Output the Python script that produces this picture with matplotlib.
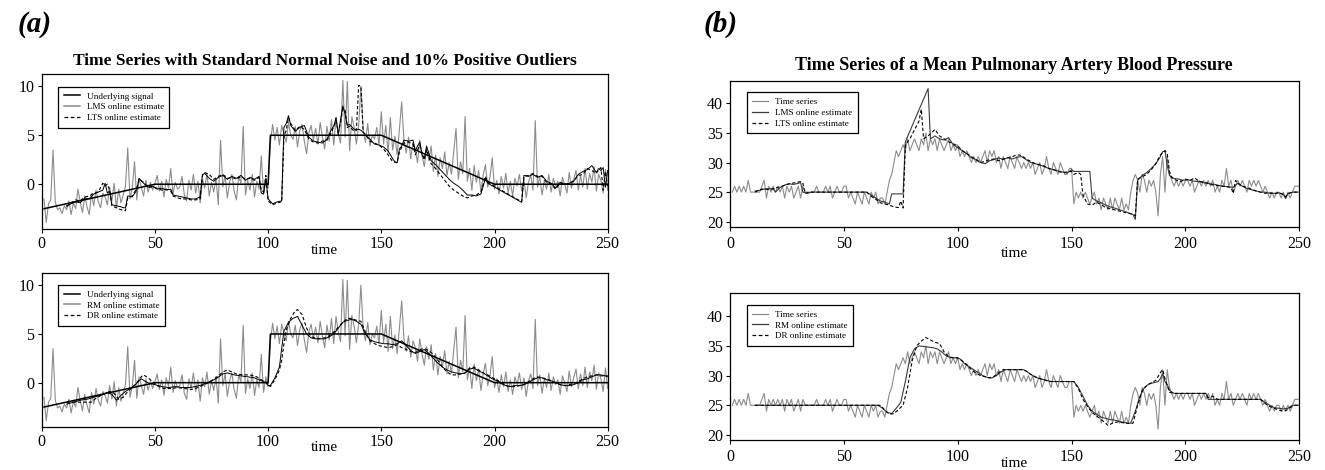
import matplotlib
matplotlib.use("Agg")
import matplotlib.pyplot as plt
from matplotlib.lines import Line2D

# ---------------- data: panel (a) ----------------
a_series = [
    -1.5, -3.9, -2.0, -1.6, 3.5, -1.8, -2.6, -2.4, -3.0, -2.2,
    -2.6, -1.7, -3.1, -1.9, -2.5, -0.5, -1.8, -2.9, -1.2, -2.3,
    -3.1, -1.0, -2.2, -0.6, -1.8, -2.4, -0.9, -1.3, -2.1, -0.3,
    -1.7, 0.1, -2.4, -0.5, -1.9, -1.1, -0.2, 3.7, -1.5, -0.4,
    2.3, -1.6, 0.6, -0.3, -1.2, 0.4, -0.8, 0.2, -0.6, 0.1,
    0.9, -0.7, 0.3, -1.3, 0.5, -0.4, 1.6, -1.0, 0.2, -0.5,
    -0.3, 0.8, -1.1, -1.7, 0.4, -0.6, 1.0, -0.9, 0.3, -1.9,
    0.5, -0.4, 1.1, -1.2, 0.2, -0.8, 0.6, -2.1, 4.5, -0.3,
    0.9, -1.4, 0.2, 1.0, -0.7, -1.6, 0.8, 0.1, 5.9, -1.1,
    0.4, -0.6, 1.0, -1.3, 0.3, -0.5, 2.9, -1.0, 0.6, -0.4,
    4.2, 6.1, 4.5, 5.8, 4.0, 6.0, 5.1, 4.3, 6.3, 5.0,
    4.6, 5.9, 3.8, 5.5, 6.1, 4.4, 3.1, 5.2, 6.0, 4.5,
    5.7, 4.1, 6.3, 4.8, 3.6, 5.9, 4.4, 6.6, 4.0, 6.8,
    5.2, 4.2, 10.6, 4.8, 10.5, 3.4, 6.9, 5.8, 4.1, 6.0,
    10.0, 5.5, 4.3, 6.2, 3.9, 5.0, 4.6, 5.8, 4.0, 7.4,
    4.1, 6.0, 3.2, 6.8, 3.5, 4.9, 3.0, 5.6, 8.4, 4.5,
    3.2, 4.8, 2.6, 4.3, 3.6, 2.2, 4.5, 2.9, 1.8, 3.7,
    2.4, 3.9, 1.3, 3.0, 0.8, 2.7, 1.6, 3.3, 0.9, 2.2,
    1.0, 3.4, 5.7, 0.5, 2.3, 1.1, 6.9, 0.3, 1.6, -0.6,
    1.9, 0.2, 1.4, -0.8, 0.9, 2.0, -0.3, 0.7, 2.7, -0.5,
    0.4, -1.0, 0.8, -0.4, 1.1, -0.9, 0.3, -1.2, 0.6, -0.2,
    1.0, -0.7, 0.5, -1.4, 0.2, 0.9, -0.6, 6.5, -0.3, 0.8,
    -1.1, 0.4, -0.5, 1.0, -0.8, 0.6, -0.2, 0.3, -1.2, 0.7,
    0.0, -0.9, 1.2, -0.4, 0.5, 1.4, -0.6, 0.9, -0.3, 1.6,
    -0.5, 1.1, 0.2, 1.8, -0.7, 1.0, 0.4, -0.9, 1.5, -0.6,
]
a_signal_t = [1, 50, 100, 101, 150, 200, 250]
a_signal_v = [-2.5, 0, 0, 5, 5, 0, 0]

a_lms_t = [11, 13, 15, 17, 19, 21, 23, 25, 27, 28, 29, 30, 31, 33, 35, 36, 37, 38, 40, 42,
           43, 45, 47, 49, 51, 53, 55, 57, 58, 60, 62, 64, 66, 68, 70, 71, 72, 74, 76, 78,
           80, 82, 84, 86, 88, 90, 92, 94, 96, 97, 98, 99, 100, 102, 104, 106, 107, 108, 109, 110,
           112, 114, 116, 118, 120, 122, 124, 126, 128, 129, 130, 131, 132, 133, 134, 135, 136, 138, 140, 141,
           142, 143, 145, 147, 149, 151, 153, 155, 156, 157, 158, 159, 160, 162, 164, 165, 166, 167, 168, 169,
           170, 172, 174, 176, 178, 180, 182, 184, 186, 188, 190, 192, 194, 196, 197, 212, 213, 215, 217, 219,
           221, 223, 225, 227, 229, 231, 233, 235, 237, 239, 241, 243, 245, 246, 247, 248, 249, 250]
a_lms_v = [-2.2, -2.0, -1.8, -1.9, -1.4, -1.5, -1.0, -0.8, -0.6, 0.1, -0.9, -0.7, -2.1, -2.2, -2.3, -2.4, -2.4, -1.2, -1.3, -0.6,
           0.6, 0.1, -0.3, -0.2, -0.5, -0.4, -0.6, -0.5, -1.1, -1.2, -1.3, -1.4, -1.5, -1.5, -1.3, 1.0, 1.1, 0.6, 0.3, 0.7,
           0.9, 0.5, 0.8, 0.6, 0.9, 0.4, 0.7, 0.5, 0.8, -0.9, -1.0, 0.6, -1.5, -2.0, -1.8, -1.7, 5.8, 6.2, 7.0, 6.0,
           5.4, 5.8, 6.0, 4.8, 4.4, 4.3, 4.2, 4.6, 5.6, 5.9, 6.8, 5.0, 6.6, 8.0, 7.2, 6.0, 6.1, 5.6, 5.6, 5.5,
           5.3, 5.0, 4.6, 4.1, 4.0, 3.8, 3.4, 2.6, 2.3, 2.2, 3.6, 3.9, 4.5, 4.4, 4.5, 3.4, 3.9, 4.3, 3.0, 2.6,
           3.9, 2.4, 2.0, 1.5, 1.0, 0.5, 0.1, -0.2, -0.6, -1.1, -1.1, -1.2, -1.0, 0.6, 0.1, -1.85, 0.9, 0.8, 1.0, 0.7,
           0.9, 0.3, 0.1, -0.4, 0.2, 0.0, 0.1, 0.3, 1.0, 1.3, 1.5, 1.9, 1.2, 1.6, 1.4, 1.7, -0.3, 1.4]

a_lts_t = [11, 13, 15, 17, 19, 21, 23, 25, 27, 28, 29, 30, 31, 33, 35, 37, 38, 40, 42, 43,
           45, 47, 49, 51, 53, 55, 57, 58, 60, 62, 64, 66, 68, 70, 71, 72, 74, 76, 78, 80,
           82, 84, 86, 88, 90, 92, 94, 96, 97, 98, 99, 100, 102, 104, 106, 107, 108, 109, 110, 112,
           114, 116, 118, 120, 122, 124, 126, 128, 130, 131, 132, 133, 134, 135, 136, 138, 139, 140, 141, 142,
           143, 145, 147, 149, 151, 153, 155, 157, 158, 160, 162, 164, 165, 167, 168, 169, 170, 172, 174, 176,
           178, 180, 182, 184, 186, 188, 190, 192, 194, 196, 197, 212, 213, 215, 217, 219, 221, 223, 225, 227,
           229, 231, 233, 235, 237, 239, 241, 243, 245, 246, 247, 248, 249, 250]
a_lts_v = [-2.3, -1.9, -1.6, -1.7, -1.3, -1.2, -0.9, -0.8, 0.1, -0.2, 0.0, -0.6, -2.2, -2.4, -2.6, -2.7, -1.4, -1.2, -0.4, 0.5,
           0.2, -0.3, -0.3, -0.4, -0.6, -0.5, -0.7, -1.2, -1.4, -1.5, -1.5, -1.6, -1.6, -1.5, 0.9, 1.2, 1.0, 0.5, 0.8, 1.0,
           0.6, 0.7, 0.5, 0.8, 0.5, 0.6, 0.4, 0.7, -0.6, -0.8, 0.9, -1.7, -2.1, -1.9, -1.8, 4.9, 5.5, 6.8, 6.2, 5.5,
           5.9, 5.6, 4.6, 4.3, 4.2, 4.4, 4.5, 5.3, 6.5, 5.3, 6.3, 7.7, 7.6, 5.8, 5.9, 5.4, 5.5, 10.1, 10.0, 5.3,
           5.1, 4.4, 4.2, 4.0, 3.6, 3.0, 2.3, 2.2, 3.3, 4.2, 4.3, 4.1, 3.0, 4.0, 3.2, 2.5, 3.5, 2.1, 1.6, 1.0,
           0.4, -0.2, -0.6, -0.9, -1.2, -1.4, -1.2, -1.1, -0.8, 0.8, 0.2, -1.8, 0.8, 0.9, 1.1, 0.8, 0.8, 0.2, 0.0, -0.5,
           0.1, 0.1, 0.0, 0.4, 0.9, 1.0, 1.6, 1.4, 1.1, 1.5, 1.7, -0.6, 1.3, -0.2]

a_rm_t = [11, 14, 17, 20, 23, 26, 29, 31, 33, 35, 37, 39, 41, 43, 44, 46, 48, 50, 53, 56,
          59, 62, 65, 68, 71, 74, 77, 80, 82, 85, 88, 91, 94, 97, 99, 100, 101, 103, 105, 106,
          107, 109, 111, 113, 115, 117, 119, 121, 123, 125, 127, 129, 131, 133, 135, 137, 139, 141, 143, 145,
          147, 149, 151, 153, 155, 157, 159, 161, 163, 165, 167, 169, 171, 173, 175, 177, 179, 181, 183, 185,
          187, 189, 191, 193, 195, 197, 199, 201, 203, 205, 207, 209, 211, 213, 215, 217, 219, 221, 223, 225,
          227, 229, 231, 233, 235, 237, 239, 241, 243, 245, 247, 249, 250]
a_rm_v = [-2.2, -2.0, -1.8, -1.7, -1.5, -1.3, -1.0, -1.2, -1.8, -1.3, -0.9, -0.6, -0.3, 0.2, 0.4, 0.1, -0.1, -0.2, -0.4, -0.5,
          -0.4, -0.5, -0.5, -0.4, -0.2, 0.1, 0.4, 0.9, 1.0, 0.8, 0.7, 0.6, 0.5, 0.2, 0.0, -0.3, -0.3, 0.5, 1.6, 3.5,
          5.3, 6.2, 6.6, 6.8, 5.9, 5.0, 4.6, 4.5, 4.5, 4.5, 4.7, 5.0, 5.6, 6.2, 6.4, 6.5, 6.3, 6.0, 5.0, 4.4,
          4.2, 4.1, 4.0, 4.0, 3.9, 4.0, 4.3, 3.8, 3.3, 3.0, 3.2, 3.4, 3.0, 2.5, 2.0, 1.6, 1.3, 1.1, 1.0, 0.9,
          1.0, 1.4, 1.5, 1.2, 1.0, 0.7, 0.4, 0.2, -0.1, -0.3, -0.4, -0.3, -0.3, -0.2, 0.0, 0.3, 0.5, 0.5, 0.3, 0.2,
          0.0, -0.2, -0.3, -0.3, -0.2, 0.0, 0.3, 0.4, 0.6, 0.8, 0.8, 0.7, 0.7]

a_dr_t = [11, 14, 17, 20, 22, 24, 27, 30, 32, 34, 36, 38, 40, 42, 44, 45, 47, 49, 51, 54,
          57, 60, 63, 66, 69, 72, 75, 78, 80, 82, 84, 86, 89, 92, 95, 97, 99, 100, 101, 103,
          105, 106, 107, 108, 110, 112, 113, 115, 117, 119, 121, 123, 125, 127, 129, 131, 133, 135, 137, 139,
          141, 143, 145, 147, 149, 151, 153, 155, 157, 159, 161, 163, 165, 167, 169, 171, 173, 175, 177, 179,
          181, 183, 185, 187, 189, 191, 193, 195, 197, 199, 201, 203, 205, 207, 209, 211, 213, 215, 217, 219,
          221, 223, 225, 227, 229, 231, 233, 235, 237, 239, 241, 243, 245, 247, 249, 250]
a_dr_v = [-2.0, -2.0, -2.0, -2.0, -2.0, -1.6, -1.2, -0.9, -1.1, -1.7, -1.5, -0.9, -0.5, 0.0, 0.6, 0.8, 0.5, 0.1, -0.3, -0.6,
          -0.6, -0.5, -0.6, -0.7, -0.5, -0.2, 0.2, 0.7, 1.1, 1.3, 1.1, 0.9, 0.8, 0.8, 0.6, 0.3, 0.1, -0.2, -0.4, 0.3,
          1.3, 2.3, 4.0, 5.4, 6.6, 7.4, 7.5, 7.0, 5.6, 4.7, 4.6, 4.5, 4.6, 4.8, 5.2, 5.7, 6.2, 6.6, 6.6, 6.4,
          6.3, 5.2, 4.3, 4.0, 3.8, 3.7, 3.6, 3.7, 3.9, 3.6, 3.4, 3.2, 3.1, 3.4, 3.5, 3.3, 2.9, 2.3, 1.6, 1.1,
          0.8, 0.8, 0.9, 1.0, 1.5, 1.6, 1.3, 1.0, 0.8, 0.5, 0.3, 0.0, -0.3, -0.4, -0.4, -0.3, -0.2, 0.1, 0.4, 0.6,
          0.5, 0.4, 0.2, 0.0, -0.2, -0.3, -0.2, -0.1, 0.1, 0.4, 0.6, 0.7, 0.8, 0.7, 0.7, 0.6]

# ---------------- data: panel (b) ----------------
b_series = [
    25, 26, 25, 26, 25, 26, 25, 27, 25, 25,
    25, 25, 25, 26, 27, 24, 26, 25, 26, 25,
    26, 25, 26, 24, 26, 25, 26, 24, 25, 26,
    24, 26, 25, 25, 25, 25, 25, 26, 25, 25,
    25, 26, 25, 26, 24, 25, 26, 25, 25, 26,
    26, 24, 25, 24, 23, 25, 24, 23, 25, 24,
    23, 25, 24, 25, 23, 24, 24, 23, 25, 27,
    28, 30, 32, 31, 32, 33, 32, 34, 32, 33,
    34, 33, 32, 34, 33, 35, 32, 34, 33, 34,
    32, 34, 33, 32, 33, 34, 32, 33, 32, 33,
    31, 32, 31, 32, 31, 30, 31, 30, 31, 30,
    31, 32, 30, 32, 31, 32, 30, 31, 29, 31,
    30, 29, 31, 30, 29, 31, 30, 29, 30, 29,
    30, 29, 30, 28, 29, 30, 28, 29, 31, 29,
    28, 30, 29, 28, 30, 29, 28, 28, 29, 29,
    23, 25, 24, 25, 24, 25, 24, 23, 24, 25,
    23, 24, 22, 24, 23, 22, 24, 22, 24, 23,
    22, 24, 22, 23, 22, 25, 27, 28, 27, 25,
    28, 27, 25, 27, 26, 27, 25, 21, 28, 31,
    25, 31, 28, 27, 26, 27, 26, 27, 26, 27,
    27, 26, 27, 25, 26, 27, 26, 27, 26, 27,
    26, 27, 25, 26, 25, 27, 26, 29, 26, 27,
    25, 26, 27, 26, 27, 26, 25, 27, 26, 27,
    26, 27, 26, 25, 26, 25, 24, 25, 24, 25,
    25, 24, 25, 24, 25, 24, 25, 26, 26, 26,
]

b_lms_t = [11, 13, 15, 17, 19, 20, 22, 24, 26, 28, 30, 31, 32, 34, 36, 40, 50, 60, 62, 64,
           66, 68, 70, 71, 76, 77, 87, 88, 90, 92, 94, 96, 98, 100, 102, 104, 106, 108, 110, 112,
           114, 116, 118, 120, 122, 124, 126, 128, 130, 132, 134, 136, 138, 140, 142, 144, 146, 148, 150, 151,
           158, 159, 161, 163, 165, 167, 169, 171, 173, 175, 177, 178, 179, 181, 183, 185, 187, 189, 190, 191,
           192, 193, 195, 197, 199, 201, 203, 205, 207, 209, 211, 213, 215, 217, 219, 221, 223, 225, 227, 229,
           231, 233, 235, 237, 239, 241, 243, 244, 245, 247, 250]
b_lms_v = [25.2, 25.3, 25.5, 25.6, 25.5, 25.0, 25.8, 26.2, 26.4, 26.3, 26.5, 26.6, 25.0, 24.8, 25.0, 25.0, 25.0, 25.0, 24.5, 24.0,
           23.5, 23.3, 23.0, 24.7, 24.7, 33.5, 42.5, 34.0, 34.5, 34.0, 33.8, 34.2, 33.0, 32.5, 32.0, 31.5, 30.8, 30.5, 30.0, 29.8,
           30.3, 30.5, 30.8, 30.5, 30.8, 30.6, 30.9, 31.0, 30.5, 30.0, 29.8, 29.6, 29.3, 29.0, 28.8, 28.6, 28.4, 28.2, 28.8, 28.5,
           28.5, 24.0, 23.5, 23.2, 22.8, 22.5, 22.3, 22.0, 21.8, 21.5, 21.2, 20.4, 27.0, 27.8, 28.3, 29.0, 29.8, 31.0, 31.8, 32.0,
           29.5, 27.8, 27.3, 27.2, 27.0, 27.1, 26.9, 26.8, 26.7, 26.5, 26.4, 26.3, 26.1, 26.0, 25.9, 25.8, 26.5, 26.0, 25.6, 25.4,
           25.2, 25.0, 25.0, 24.8, 24.8, 24.9, 24.6, 23.9, 24.8, 25.0, 25.0]

b_lts_t = [11, 13, 15, 17, 19, 21, 23, 25, 27, 29, 31, 32, 33, 35, 40, 50, 60, 62, 64, 66,
           68, 70, 72, 74, 75, 76, 77, 79, 81, 83, 84, 85, 87, 89, 90, 92, 94, 96, 98, 100,
           102, 104, 106, 108, 110, 112, 114, 116, 118, 120, 122, 124, 126, 128, 130, 132, 134, 136, 138, 140,
           142, 144, 146, 148, 150, 151, 153, 154, 155, 157, 159, 161, 163, 165, 167, 169, 171, 173, 175, 177,
           178, 179, 181, 183, 185, 187, 189, 191, 192, 193, 194, 196, 198, 200, 202, 204, 206, 208, 210, 212,
           214, 216, 218, 220, 221, 222, 223, 225, 227, 229, 231, 233, 235, 237, 239, 241, 243, 244, 245, 247,
           250]
b_lts_v = [25.0, 25.4, 25.6, 25.4, 25.6, 25.8, 26.0, 26.3, 26.5, 26.6, 26.8, 26.5, 24.8, 25.0, 25.0, 25.0, 25.0, 24.3, 23.8, 23.2,
           23.0, 22.8, 22.5, 22.4, 23.5, 22.3, 33.0, 34.0, 35.5, 37.0, 39.0, 34.0, 34.5, 35.2, 35.6, 34.5, 34.0, 33.5, 33.2, 32.8,
           32.0, 31.5, 31.0, 30.5, 30.0, 30.2, 30.5, 30.6, 30.3, 30.6, 30.8, 31.0, 31.3, 31.2, 30.6, 30.2, 29.8, 29.6, 29.4, 29.0,
           28.8, 28.5, 28.3, 28.4, 28.5, 28.0, 28.3, 28.0, 24.5, 23.0, 22.8, 23.3, 22.9, 22.4, 22.2, 22.0, 21.8, 21.6, 21.4, 21.3,
           21.0, 27.2, 27.6, 28.0, 28.8, 29.8, 31.3, 32.0, 31.5, 28.5, 27.4, 27.0, 26.8, 27.2, 27.0, 27.4, 26.8, 26.7, 26.5, 26.2,
           26.1, 26.0, 25.9, 25.8, 24.8, 27.0, 26.5, 26.0, 25.8, 25.5, 25.2, 25.0, 24.8, 24.9, 24.7, 24.9, 24.6, 24.2, 24.7, 25.0,
           25.0]

b_rm_t = [11, 20, 30, 40, 50, 60, 65, 67, 69, 71, 73, 75, 77, 79, 81, 83, 85, 87, 89, 91,
          93, 95, 97, 99, 101, 103, 105, 107, 109, 111, 113, 115, 117, 119, 121, 123, 125, 127, 129, 131,
          133, 135, 137, 139, 141, 143, 145, 147, 149, 151, 153, 155, 157, 159, 161, 163, 165, 167, 169, 171,
          173, 175, 176, 178, 180, 182, 184, 186, 188, 189, 190, 191, 192, 193, 195, 200, 205, 209, 210, 215,
          220, 225, 230, 233, 235, 237, 239, 241, 243, 245, 247, 250]
b_rm_v = [25.0, 25.0, 25.0, 25.0, 25.0, 25.0, 25.0, 24.5, 23.8, 23.6, 24.5, 25.5, 29.0, 33.0, 34.5, 35.0, 34.9, 34.8, 34.7, 34.5,
          34.0, 33.3, 33.0, 33.0, 32.8, 32.0, 31.5, 31.0, 30.5, 30.0, 29.7, 29.6, 30.0, 30.6, 31.0, 31.0, 31.0, 31.0, 31.0, 30.5,
          30.0, 29.6, 29.4, 29.2, 29.0, 29.0, 29.0, 29.0, 29.0, 29.0, 28.0, 26.5, 25.0, 24.0, 23.5, 23.0, 22.8, 22.6, 22.5, 22.3,
          22.1, 22.0, 22.0, 24.0, 26.5, 28.0, 28.6, 28.8, 29.0, 29.5, 30.3, 29.0, 28.5, 27.5, 27.0, 27.0, 27.0, 27.0, 26.0, 26.0,
          26.0, 26.0, 26.0, 26.0, 25.5, 25.0, 24.6, 24.5, 24.4, 24.5, 25.0, 25.0]

b_dr_t = [11, 20, 30, 40, 50, 60, 66, 68, 70, 72, 74, 76, 78, 80, 82, 84, 86, 88, 90, 92,
          94, 96, 98, 100, 102, 104, 106, 108, 110, 112, 114, 116, 118, 120, 124, 128, 130, 132, 134, 136,
          138, 140, 144, 148, 151, 153, 155, 157, 159, 161, 163, 165, 166, 168, 170, 172, 174, 176, 177, 179,
          181, 183, 185, 187, 189, 190, 191, 193, 195, 200, 205, 209, 210, 212, 214, 220, 225, 230, 233, 235,
          237, 239, 241, 243, 244, 246, 248, 250]
b_dr_v = [25.0, 25.0, 25.0, 25.0, 25.0, 25.0, 25.0, 24.2, 23.5, 23.6, 24.3, 25.0, 28.0, 32.5, 35.0, 35.8, 36.4, 36.0, 35.6, 35.4,
          34.0, 33.2, 33.0, 33.0, 32.5, 31.8, 31.0, 30.4, 30.0, 29.8, 29.6, 29.9, 30.5, 31.0, 31.0, 31.0, 30.8, 30.2, 29.8, 29.5,
          29.3, 29.0, 29.0, 29.0, 29.0, 27.8, 26.0, 24.8, 23.8, 23.2, 22.6, 22.0, 21.6, 22.0, 22.2, 22.1, 22.0, 21.9, 22.0, 25.0,
          27.5, 28.3, 28.8, 29.2, 30.5, 31.0, 29.5, 27.2, 27.0, 27.0, 27.0, 27.0, 26.3, 26.5, 26.0, 26.0, 26.0, 26.0, 26.0, 25.3,
          24.8, 24.5, 24.2, 24.0, 24.1, 24.6, 25.0, 25.0]

titles = ["Time Series with Standard Normal Noise and 10% Positive Outliers",
          "Time Series of a Mean Pulmonary Artery Blood Pressure"]
a_top_labels = ["Underlying signal", "LMS online estimate", "LTS online estimate"]
a_bot_labels = ["Underlying signal", "RM online estimate", "DR online estimate"]
b_top_labels = ["Time series", "LMS online estimate", "LTS online estimate"]
b_bot_labels = ["Time series", "RM online estimate", "DR online estimate"]
x_ticks = [0, 50, 100, 150, 200, 250]
a_yticks = [0, 5, 10]
b_yticks = [20, 25, 30, 35, 40]

# ---------------- drawing ----------------
plt.rcParams["font.family"] = ["Liberation Serif", "DejaVu Serif"]
W, H = 1325, 470
fig = plt.figure(figsize=(W / 100, H / 100), dpi=100)

GRAY = "#8c8c8c"
DARK = "#3a3a3a"
DASH = (0, (3.0, 2.0))


def axrect(l, t, r, b):
    return [l / W, 1 - b / H, (r - l) / W, (b - t) / H]


def style(ax, ylim, yticks, tick_pad_x):
    ax.set_xlim(0, 250)
    ax.set_ylim(*ylim)
    ax.set_xticks(x_ticks)
    ax.set_yticks(yticks)
    ax.tick_params(direction="out", length=3.2, width=0.8, labelsize=11.5, colors="black")
    ax.tick_params(axis="x", pad=tick_pad_x)
    ax.tick_params(axis="y", pad=2.0)
    for s in ax.spines.values():
        s.set_linewidth(0.9)
        s.set_color("black")


def legend(ax, labels, handles_style):
    hs = [Line2D([], [], **st) for st in handles_style]
    leg = ax.legend(hs, labels, loc="upper left", bbox_to_anchor=(0.029, 0.92),
                    borderaxespad=0, fontsize=6.6, frameon=True, fancybox=False,
                    edgecolor="black", framealpha=1, handlelength=1.75, handletextpad=0.75,
                    labelspacing=0.25, borderpad=0.6)
    leg.get_frame().set_linewidth(0.9)


def time_label(ax, px_below, ax_h_px):
    ax.text(0.5, -px_below / ax_h_px, "time", transform=ax.transAxes,
            ha="center", va="center", fontsize=11)


t_a = list(range(1, len(a_series) + 1))
t_b = list(range(1, len(b_series) + 1))

# (a) top
ax1 = fig.add_axes(axrect(41.7, 74.3, 607.7, 229.0))
ax1.plot(t_a, a_series, color=GRAY, lw=0.8)
ax1.plot(a_signal_t, a_signal_v, color="black", lw=1.1)
ax1.plot(a_lms_t, a_lms_v, color="black", lw=0.7)
ax1.plot(a_lts_t, a_lts_v, color="black", lw=0.8, linestyle=DASH)
style(ax1, (-4.57, 11.22), a_yticks, 1.5)
legend(ax1, a_top_labels, [dict(color="black", lw=1.1), dict(color=GRAY, lw=1.1),
                           dict(color="black", lw=0.9, linestyle=DASH)])
time_label(ax1, 21, 154.7)

# (a) bottom
ax2 = fig.add_axes(axrect(41.7, 272.7, 607.7, 427.3))
ax2.plot(t_a, a_series, color=GRAY, lw=0.8)
ax2.plot(a_signal_t, a_signal_v, color="black", lw=1.1)
ax2.plot(a_rm_t, a_rm_v, color="black", lw=0.7)
ax2.plot(a_dr_t, a_dr_v, color="black", lw=0.8, linestyle=DASH)
style(ax2, (-4.58, 11.29), a_yticks, 1.5)
legend(ax2, a_bot_labels, [dict(color="black", lw=1.1), dict(color=GRAY, lw=1.1),
                           dict(color="black", lw=0.9, linestyle=DASH)])
time_label(ax2, 20, 154.6)

# (b) top
ax3 = fig.add_axes(axrect(730.0, 80.7, 1299.3, 226.7))
ax3.plot(t_b, b_series, color=GRAY, lw=0.8)
ax3.plot(b_lms_t, b_lms_v, color=DARK, lw=0.8)
ax3.plot(b_lts_t, b_lts_v, color="black", lw=0.8, linestyle=DASH)
style(ax3, (19.16, 43.82), b_yticks, 3.5)
legend(ax3, b_top_labels, [dict(color=GRAY, lw=0.9), dict(color=DARK, lw=0.9),
                           dict(color="black", lw=0.9, linestyle=DASH)])
time_label(ax3, 26.5, 146.0)

# (b) bottom
ax4 = fig.add_axes(axrect(730.0, 293.3, 1299.3, 440.0))
ax4.plot(t_b, b_series, color=GRAY, lw=0.8)
ax4.plot(b_rm_t, b_rm_v, color=DARK, lw=0.8)
ax4.plot(b_dr_t, b_dr_v, color="black", lw=0.8, linestyle=DASH)
style(ax4, (19.16, 43.85), b_yticks, 3.5)
legend(ax4, b_bot_labels, [dict(color=GRAY, lw=0.9), dict(color=DARK, lw=0.9),
                           dict(color="black", lw=0.9, linestyle=DASH)])
time_label(ax4, 23.5, 146.7)

# titles and panel labels
fig.text(324.7 / W, 1 - 61 / H, titles[0], ha="center", va="center",
         fontsize=12.5, fontweight="bold")
fig.text(1014.0 / W, 1 - 66 / H, titles[1], ha="center", va="center",
         fontsize=13.0, fontweight="bold")
fig.text(18 / W, 1 - 24 / H, "(a)", ha="left", va="center", fontsize=21,
         fontstyle="italic", fontweight="bold")
fig.text(704 / W, 1 - 24 / H, "(b)", ha="left", va="center", fontsize=21,
         fontstyle="italic", fontweight="bold")

fig.savefig("out.png", dpi=100, facecolor="white")
